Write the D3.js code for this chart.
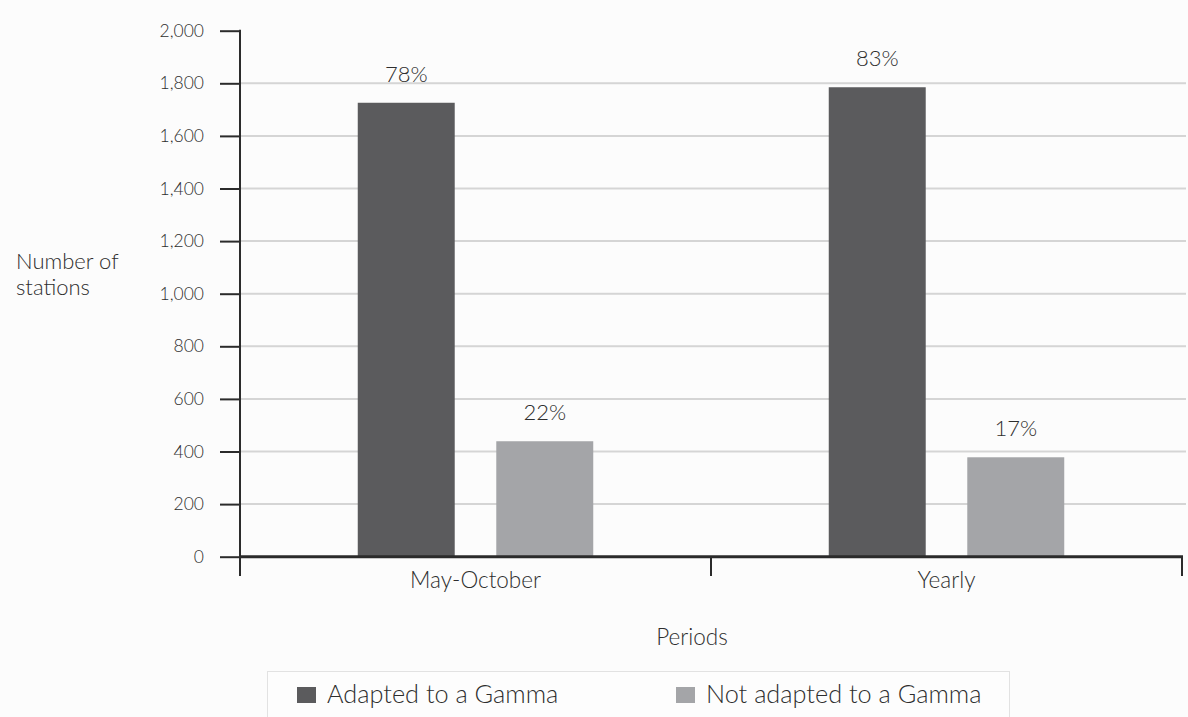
<!DOCTYPE html>
<html>
<head>
<meta charset="utf-8">
<script src="https://cdn.jsdelivr.net/npm/d3@7"></script>
<style>
  html, body { margin: 0; padding: 0; background: #fcfcfc; }
  svg { display: block; font-family: "Lato", "Open Sans", sans-serif; font-weight: 300; }
  text { fill: #2e2e2e; }
</style>
</head>
<body>
<svg id="chart" width="1188" height="717"></svg>
<script>
// Number of stations by period, split by fit to a Gamma distribution
const categories = ["May-October", "Yearly"];
const seriesNames = ["Adapted to a Gamma", "Not adapted to a Gamma"];
const adapted = [1726, 1785];
const notAdapted = [439, 378];
const adaptedPct = ["78%", "83%"];
const notAdaptedPct = ["22%", "17%"];
const yTicks = [0, 200, 400, 600, 800, 1000, 1200, 1400, 1600, 1800, 2000];
const colors = ["#5b5b5d", "#a4a5a8"];

const svg = d3.select("#chart");
const plotLeft = 240, plotRight = 1182, plotTop = 30.7, plotBottom = 556.7;

const y = d3.scaleLinear().domain([0, 2000]).range([plotBottom, plotTop]);
const x0 = d3.scaleBand().domain(categories).range([plotLeft, plotRight])
  .paddingInner(0.5).paddingOuter(0.25);
const x1 = d3.scaleBand().domain(seriesNames).range([0, x0.bandwidth()])
  .paddingInner(0.3).paddingOuter(0);
const color = d3.scaleOrdinal().domain(seriesNames).range(colors);

// horizontal gridlines
svg.append("g")
  .selectAll("line")
  .data(yTicks.filter(d => d > 0 && d < 2000))
  .join("line")
  .attr("x1", plotLeft).attr("x2", 1186)
  .attr("y1", d => y(d)).attr("y2", d => y(d))
  .attr("stroke", "#d5d5d5").attr("stroke-width", 2);

// bars
const rows = categories.map((c, i) => ({
  cat: c,
  vals: [
    { key: seriesNames[0], value: adapted[i], label: adaptedPct[i] },
    { key: seriesNames[1], value: notAdapted[i], label: notAdaptedPct[i] }
  ]
}));

const groups = svg.append("g").selectAll("g")
  .data(rows).join("g")
  .attr("transform", d => `translate(${x0(d.cat)},0)`);

groups.selectAll("rect")
  .data(d => d.vals).join("rect")
  .attr("x", d => x1(d.key))
  .attr("y", d => y(d.value))
  .attr("width", x1.bandwidth())
  .attr("height", d => y(0) - y(d.value))
  .attr("fill", d => color(d.key));

groups.selectAll("text")
  .data(d => d.vals).join("text")
  .attr("x", d => x1(d.key) + x1.bandwidth() / 2)
  .attr("y", d => y(d.value) - 21)
  .attr("text-anchor", "middle")
  .attr("font-size", 22)
  .text(d => d.label);

// y axis
const yAxis = d3.axisLeft(y).tickValues(yTicks).tickSize(20).tickPadding(16)
  .tickFormat(d3.format(","));
const gy = svg.append("g").attr("transform", `translate(${plotLeft},0)`).call(yAxis);
gy.select(".domain").remove();
gy.selectAll(".tick line").attr("stroke", "#2b2b2b").attr("stroke-width", 2);
gy.selectAll(".tick text").attr("font-size", 17.5).attr("fill", "#2e2e2e")
  .attr("font-family", "Lato, sans-serif");
svg.append("line")
  .attr("x1", plotLeft).attr("x2", plotLeft).attr("y1", plotTop - 1).attr("y2", 576)
  .attr("stroke", "#2b2b2b").attr("stroke-width", 2);

// x axis: baseline, category separators, labels
svg.append("line")
  .attr("x1", plotLeft).attr("x2", plotRight + 1).attr("y1", y(0)).attr("y2", y(0))
  .attr("stroke", "#2b2b2b").attr("stroke-width", 3);
const edges = [plotLeft + x0.step() * 1, plotRight];
svg.append("g").selectAll("line").data(edges).join("line")
  .attr("x1", d => d).attr("x2", d => d)
  .attr("y1", y(0)).attr("y2", 576)
  .attr("stroke", "#2b2b2b").attr("stroke-width", 2);
svg.append("g").selectAll("text").data(categories).join("text")
  .attr("x", d => x0(d) + x0.bandwidth() / 2)
  .attr("y", 588)
  .attr("text-anchor", "middle")
  .attr("font-size", 22.5)
  .text(d => d);

// axis titles
svg.append("text").attr("x", 692).attr("y", 645)
  .attr("text-anchor", "middle").attr("font-size", 22.5).text("Periods");
const yt = svg.append("text").attr("x", 16).attr("y", 269).attr("font-size", 22);
yt.append("tspan").attr("x", 16).text("Number of");
yt.append("tspan").attr("x", 16).attr("dy", 26).text("stations");

// legend
svg.append("rect")
  .attr("x", 267.5).attr("y", 671.5).attr("width", 742).attr("height", 70)
  .attr("fill", "#fdfdfd").attr("stroke", "#e2e2e2");
const legendX = [297, 676];
const lg = svg.append("g").selectAll("g").data(seriesNames).join("g")
  .attr("transform", (d, i) => `translate(${legendX[i]},687)`);
lg.append("rect").attr("width", 19).attr("height", 16).attr("fill", d => color(d));
lg.append("text").attr("x", 30).attr("y", 16).attr("font-size", 25.3).text(d => d);
</script>
</body>
</html>
